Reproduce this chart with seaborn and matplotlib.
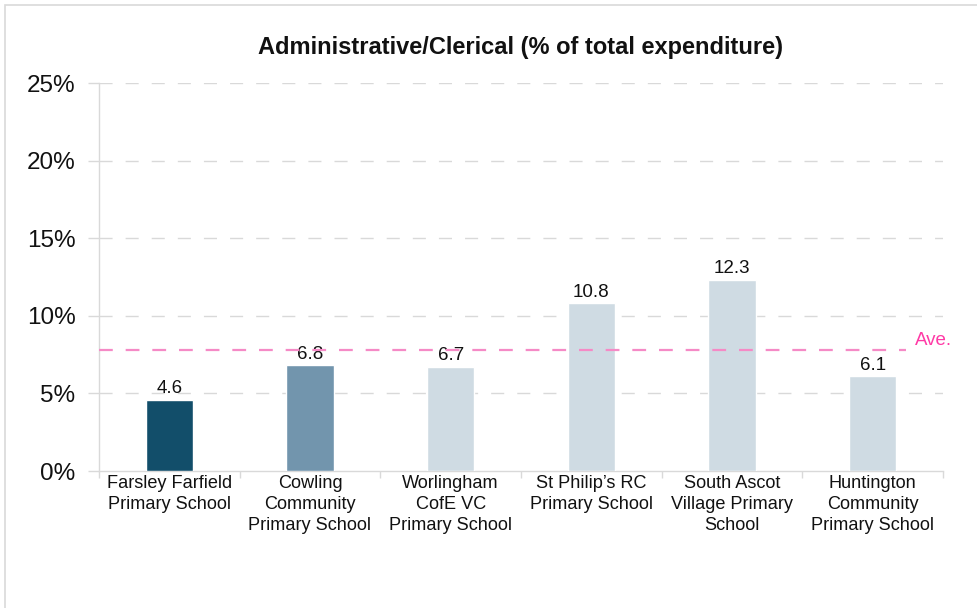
import matplotlib
matplotlib.use("Agg")
import matplotlib.pyplot as plt
import seaborn as sns
import pandas as pd
from matplotlib.patches import Rectangle
from matplotlib.ticker import FixedLocator, FuncFormatter

schools = ["Farsley Farfield\nPrimary School",
           "Cowling\nCommunity\nPrimary School",
           "Worlingham\nCofE VC\nPrimary School",
           "St Philip’s RC\nPrimary School",
           "South Ascot\nVillage Primary\nSchool",
           "Huntington\nCommunity\nPrimary School"]
values = [4.6, 6.8, 6.7, 10.8, 12.3, 6.1]
average = 7.8
bar_colors = ["#124E6A", "#7295AD", "#CFDBE3", "#CFDBE3", "#CFDBE3", "#CFDBE3"]
y_ticks = [0, 5, 10, 15, 20, 25]

sns.set_style("white")
plt.rcParams['font.family'] = ['Liberation Sans', 'DejaVu Sans']

df = pd.DataFrame({"school": schools, "value": values})

fig = plt.figure(figsize=(9.78, 6.08), dpi=100)
ax = fig.add_axes([99/978, 1-471/608, (943-99)/978, (471-83)/608])

fig.patches.append(Rectangle((5/978, -0.05), 1.2, 1.05 - 5/608, transform=fig.transFigure,
                             fill=False, edgecolor="#D9D9D9", linewidth=1.2, zorder=0))

sns.barplot(data=df, x="school", y="value", hue="school", palette=bar_colors,
            legend=False, width=0.335, ax=ax, saturation=1, zorder=3)

ax.set_xlim(-0.5, 5.5)
ax.set_ylim(0, 25)

grid_color = "#D9D9D9"
for t in y_ticks[1:]:
    ax.axhline(t, color=grid_color, linewidth=1, linestyle=(0, (9.4, 9.4)), zorder=1)

ax.plot([-0.5, 5.24], [average, average], color="#F58AC6", linewidth=1.6,
        linestyle=(0, (6.2, 5.8)), zorder=4)
ax.text(5.30, average + 0.05, "Ave.", color="#FF3AA6", fontsize=13.5, va="bottom", ha="left")

for c in ax.containers:
    ax.bar_label(c, fmt="%.1f", padding=2, fontsize=13.5, color="#111111")

ax.set_yticks(y_ticks)
ax.yaxis.set_major_formatter(FuncFormatter(lambda v, p: f"{int(v)}%"))
ax.tick_params(axis="y", length=8, color=grid_color, width=1, pad=9, labelsize=17.5,
               left=True, labelcolor="#111111")

ax.set_xticks(range(len(schools)))
ax.set_xticklabels(schools, fontsize=13.1, linespacing=1.3, color="#111111")
ax.tick_params(axis="x", which="major", length=0, pad=3)
ax.xaxis.set_minor_locator(FixedLocator([i + 0.5 for i in range(-1, len(schools))]))
ax.tick_params(axis="x", which="minor", length=5, color=grid_color, width=1, bottom=True)

ax.set_xlabel("")
ax.set_ylabel("")
for s in ["top", "right"]:
    ax.spines[s].set_visible(False)
for s in ["left", "bottom"]:
    ax.spines[s].set_color(grid_color)
    ax.spines[s].set_linewidth(1)

ax.set_title("Administrative/Clerical (% of total expenditure)", fontsize=17,
             fontweight="bold", pad=21, color="#111111")

fig.savefig("out.png", dpi=100)
